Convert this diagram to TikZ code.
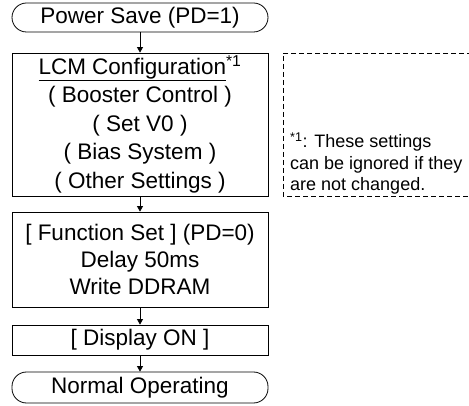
\documentclass[tikz,border=0pt]{standalone}
\usepackage{fontspec}
\setmainfont{Liberation Sans}
\usetikzlibrary{arrows.meta}
\tikzset{
  box/.style={draw, line width=0.8pt, minimum width=256pt, inner sep=0pt, align=center,
    font=\fontsize{22.5}{28.5}\selectfont},
  term/.style={box, rounded corners=14.5pt},
  arr/.style={line width=0.8pt, -{Triangle[length=5.5pt,width=6pt]}},
  note/.style={anchor=west, align=left, inner sep=0pt, font=\fontsize{18}{21.5}\selectfont},
  dashbox/.style={line width=0.8pt, dash pattern=on 5pt off 3pt}
}
\begin{document}
\begin{tikzpicture}[x=1pt,y=-1pt]
\useasboundingbox (0,0) rectangle (469,406);
\node[term, minimum height=29pt] (ps) at (140,17.5) {Power Save (PD=1)};
\node[box, minimum height=143pt] (lcm) at (140,124.5)
  {\underline{LCM Configuration}\textsuperscript{*1}\\( Booster Control )\\( Set V0 )\\( Bias System )\\( Other Settings )};
\node[box, minimum height=95pt, font=\fontsize{22.5}{27}\selectfont] (fs) at (140,259.5)
  {[ Function Set ] (PD=0)\\Delay 50ms\\Write DDRAM};
\node[box, minimum height=30pt] (don) at (140,340) {[ Display ON ]};
\node[term, minimum height=31pt] (no) at (140,387.5) {Normal Operating};
\draw[arr] (ps) -- (lcm);
\draw[arr] (lcm) -- (fs);
\draw[arr] (fs) -- (don);
\draw[arr] (don) -- (no);
\coordinate (dtr) at (472,53);
\coordinate (dtl) at (283,53);
\coordinate (dbl) at (283,196);
\coordinate (dbr) at (472,196);
\draw[dashbox] (dtr) -- (dtl) -- (dbl) -- (dbr);
\node[note] (fn) at (290,163.5)
  {\textsuperscript{*1}: These settings\\can be ignored if they\\are not changed.};
\end{tikzpicture}
\end{document}
